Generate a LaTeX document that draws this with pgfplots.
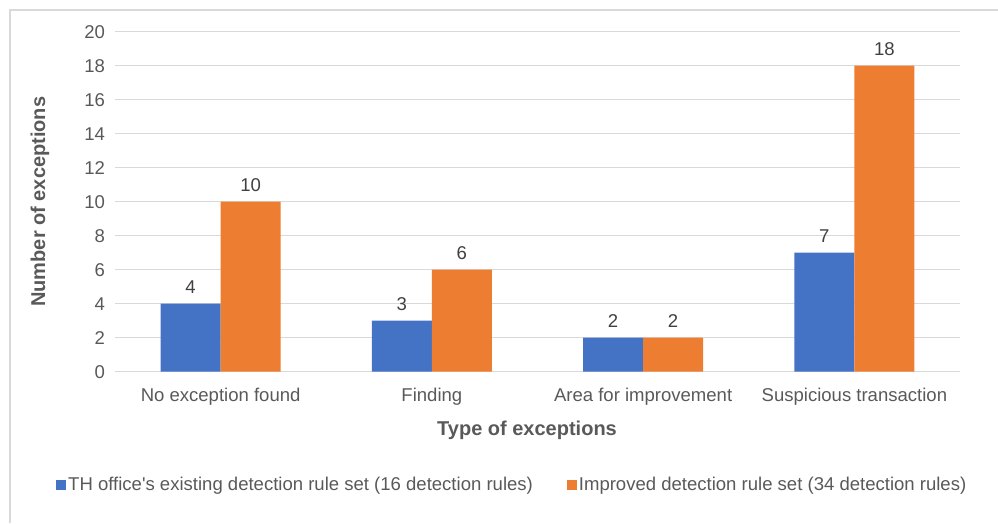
\documentclass[border=0pt]{standalone}
\usepackage{pgfplots}
\pgfplotsset{compat=1.18}
\usepackage{fontspec}
\setmainfont{Liberation Sans}
\definecolor{barblue}{HTML}{4472C4}
\definecolor{barorange}{HTML}{ED7D31}
\definecolor{txtgray}{HTML}{595959}
\definecolor{lblgray}{HTML}{404040}
\definecolor{gridgray}{HTML}{D9D9D9}
\definecolor{framegray}{HTML}{D9D9D9}
\newcommand{\fs}{\fontsize{13.9pt}{16pt}\selectfont}
\newcommand{\fb}{\fontsize{15pt}{18pt}\selectfont\bfseries}
\begin{document}
\begin{tikzpicture}[x=1pt,y=1pt]
% canvas: 1px = 0.75pt, origin at the lower-left corner of the plot area
\useasboundingbox (-86.25,-113.5) rectangle (662.25,278.8);
\draw[framegray, line width=0.8pt] (-78.75,-113.5) -- (-78.75,271.3) -- (662.25,271.3);
\begin{axis}[
  at={(0,0)}, anchor=south west,
  scale only axis,
  width=633.75pt, height=255pt,
  ybar, bar width=0.284,
  xmin=-0.5, xmax=3.5,
  ymin=0, ymax=20, ytick={0,2,...,20},
  xtick={0,1,2,3},
  xticklabels={No exception found, Finding, Area for improvement, Suspicious transaction},
  /pgf/number format/assume math mode=true,
  axis line style={draw=none},
  major tick length=0pt,
  ymajorgrids, grid style={gridgray, line width=0.8pt},
  tick label style={font=\fs, text=txtgray},
  yticklabel style={xshift=-4pt},
  xticklabel style={yshift=-8.5pt},
  xlabel={Type of exceptions},
  ylabel={Number of exceptions},
  xlabel style={font=\fb, text=txtgray, at={(axis description cs:0.4876,-0.1715)}, anchor=center},
  ylabel style={font=\fb, text=txtgray, at={(axis description cs:-0.0888,0.5)}, anchor=center},
  nodes near coords,
  every node near coord/.append style={font=\fs, text=lblgray, yshift=4pt},
  legend columns=2,
  legend style={draw=none, fill=none, font=\fs, text=txtgray,
    at={(axis description cs:-0.0746,-0.333)}, anchor=west,
    /tikz/every even column/.append style={column sep=24pt},
    nodes={inner sep=1.5pt}},
  legend image code/.code={\fill[#1] (0pt,-3.75pt) rectangle (7.5pt,3.75pt);},
]
\addplot[fill=barblue, draw=none, bar shift=-0.142] coordinates {(0,4) (1,3) (2,2) (3,7)};
\addplot[fill=barorange, draw=none, bar shift=0.142] coordinates {(0,10) (1,6) (2,2) (3,18)};
\legend{TH office\textquotesingle s existing detection rule set (16 detection rules), Improved detection rule set (34 detection rules)}
\end{axis}
\end{tikzpicture}
\end{document}
